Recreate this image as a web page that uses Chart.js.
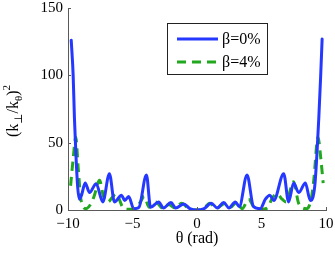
<!DOCTYPE html>
<html>
<head>
<meta charset="utf-8">
<script src="https://cdn.jsdelivr.net/npm/chart.js@4.4.1/dist/chart.umd.min.js"></script>
<style>
  html, body { margin: 0; padding: 0; background: #fff; }
</style>
</head>
<body>
<canvas id="chart" width="335" height="254"></canvas>
<script>
// values
const thetaA = [-9.75, -9.6, -9.5, -9.38, -9.25, -9.12, -8.95, -8.67, -8.33, -7.82, -7.3, -6.79, -6.4, -5.85, -5.6, -5.3, -4.9, -4.5, -3.92, -3.6, -2.97, -2.6, -2.02, -1.65, -1.03, -0.55, 0, 0.55, 1.1, 1.58, 2.07, 2.48, 2.97, 3.28, 3.88, 4.38, 4.9, 5.3, 5.65, 5.95, 6.72, 7.1, 7.49, 7.88, 8.4, 8.78, 9.0, 9.15, 9.3, 9.45, 9.58, 9.7];
const beta0 = [126, 100, 68, 40, 17, 8, 11, 20, 13, 19.5, 6, 27, 6, 11, 7, 10, 1, 2, 26, 2, 6, 1.5, 5.5, 1.5, 4.5, 1, 0, 1, 5, 1.5, 5.5, 1.5, 6, 2.5, 26, 2.5, 1, 8, 11, 7, 27, 6, 20, 13, 20, 7, 10, 20, 42, 70, 98, 127];

const thetaB = [-9.8, -9.6, -9.4, -9.2, -9.0, -8.6, -8.2, -7.95, -7.55, -7.25, -6.9, -6.6, -6.27, -5.75, -5.3, -4.9, -4.45, -4.08, -3.72, -3.2, -2.62, -2.2, -1.7, -1.2, -0.65, 0, 0.5, 1.0, 1.45, 2.2, 2.6, 3.1, 3.5, 4.0, 4.5, 5.0, 5.45, 5.85, 6.2, 6.6, 6.9, 7.49, 7.88, 8.5, 8.85, 9.05, 9.38, 9.6, 9.78];
const beta4 = [18, 38, 54, 30, 8, 1, 5, 11, 22, 10, 6, 9, 12, 2, 0.5, 0.5, 5, 10, 2, 6, 1, 4, 1.5, 5, 1, 0, 1, 5, 1, 5, 2, 6, 1, 8, 1, 0.5, 1.5, 9, 12, 8, 6, 21, 5, 1, 8, 22, 54, 38, 20];

const xTicks = [-10, -5, 0, 5, 10];
const yTicks = [0, 50, 100, 150];
const labels = ['\u03b2=0%', '\u03b2=4%'];

const serif = '"Liberation Serif", "DejaVu Serif", serif';
const blue = '#2438ff';
const green = '#22a81e';
const axisGray = '#5a5a5a';

function pairs(xs, ys) {
    return xs.map((x, i) => ({ x: x, y: ys[i] }));
}

function minus(v) {
    return v < 0 ? '\u2212' + Math.abs(v) : String(v);
}

// inward tick marks, legend box and the y label with sub/superscripts
const extras = {
    id: 'extras',
    afterDraw(chart) {
        const ctx = chart.ctx;
        const a = chart.chartArea;
        const xs = chart.scales.x, ys = chart.scales.y;
        ctx.save();
        ctx.strokeStyle = axisGray;
        ctx.lineWidth = 1;
        ctx.beginPath();
        xTicks.forEach(t => {
            const px = Math.round(xs.getPixelForValue(t)) + 0.5;
            ctx.moveTo(px, a.bottom);
            ctx.lineTo(px, a.bottom - 3);
        });
        yTicks.forEach(t => {
            const py = Math.round(ys.getPixelForValue(t)) + 0.5;
            ctx.moveTo(a.left, py);
            ctx.lineTo(a.left + 3, py);
        });
        ctx.stroke();

        // legend
        ctx.fillStyle = '#fff';
        ctx.fillRect(167.5, 23.5, 100, 51);
        ctx.strokeStyle = '#222';
        ctx.strokeRect(167.5, 23.5, 100, 51);
        const rows = [39, 62];
        chart.data.datasets.forEach((ds, i) => {
            ctx.strokeStyle = ds.borderColor;
            ctx.lineWidth = 3;
            ctx.setLineDash(ds.borderDash || []);
            ctx.beginPath();
            ctx.moveTo(177, rows[i]);
            ctx.lineTo(218, rows[i]);
            ctx.stroke();
            ctx.setLineDash([]);
            ctx.fillStyle = '#000';
            ctx.font = '16px ' + serif;
            ctx.textBaseline = 'middle';
            ctx.fillText(ds.label, 222, rows[i] + 1);
        });

        // y axis label (k_perp / k_theta)^2
        ctx.translate(18, 111);
        ctx.rotate(-Math.PI / 2);
        ctx.fillStyle = '#000';
        ctx.textBaseline = 'alphabetic';
        const parts = [
            ['(k', 16, 0], ['\u22a5', 11, 4], ['/k', 16, 0], ['\u03b8', 11, 4], [')', 16, 0], ['2', 11, -8]
        ];
        let total = 0;
        parts.forEach(p => { ctx.font = p[1] + 'px ' + serif; total += ctx.measureText(p[0]).width; });
        let cx = -total / 2;
        parts.forEach(p => {
            ctx.font = p[1] + 'px ' + serif;
            ctx.fillText(p[0], cx, p[2]);
            cx += ctx.measureText(p[0]).width;
        });
        ctx.restore();
    }
};

new Chart(document.getElementById('chart').getContext('2d'), {
    type: 'line',
    data: {
        datasets: [{
            label: labels[0],
            data: pairs(thetaA, beta0),
            borderColor: blue,
            borderWidth: 3,
            pointRadius: 0,
            cubicInterpolationMode: 'monotone',
            borderCapStyle: 'round',
            borderJoinStyle: 'round'
        }, {
            label: labels[1],
            data: pairs(thetaB, beta4),
            borderColor: green,
            borderWidth: 3,
            borderDash: [9, 6],
            pointRadius: 0,
            cubicInterpolationMode: 'monotone'
        }]
    },
    options: {
        responsive: false,
        animation: false,
        devicePixelRatio: 1,
        layout: { autoPadding: false, padding: { top: 8, right: 9, left: 0, bottom: 0 } },
        plugins: { legend: { display: false }, tooltip: { enabled: false } },
        scales: {
            x: {
                type: 'linear',
                min: -10,
                max: 10,
                afterBuildTicks: s => { s.ticks = xTicks.map(v => ({ value: v })); },
                afterFit: s => { s.height = 44; s.paddingLeft = 0; s.paddingRight = 0; },
                grid: { display: false, drawTicks: false },
                border: { display: true, color: axisGray, width: 1 },
                ticks: {
                    color: '#000',
                    padding: 5,
                    maxRotation: 0,
                    font: { family: serif, size: 15 },
                    callback: v => minus(v)
                },
                title: {
                    display: true,
                    text: '\u03b8 (rad)',
                    color: '#000',
                    font: { family: serif, size: 16 },
                    padding: { top: 0, bottom: 6 }
                }
            },
            y: {
                type: 'linear',
                min: 0,
                max: 150,
                afterBuildTicks: s => { s.ticks = yTicks.map(v => ({ value: v })); },
                afterFit: s => { s.width = 68; s.paddingTop = 0; s.paddingBottom = 0; },
                grid: { display: false, drawTicks: false },
                border: { display: true, color: axisGray, width: 1 },
                ticks: {
                    color: '#000',
                    padding: 5,
                    font: { family: serif, size: 15 },
                    callback: v => minus(v)
                }
            }
        }
    },
    plugins: [extras]
});
</script>
</body>
</html>
